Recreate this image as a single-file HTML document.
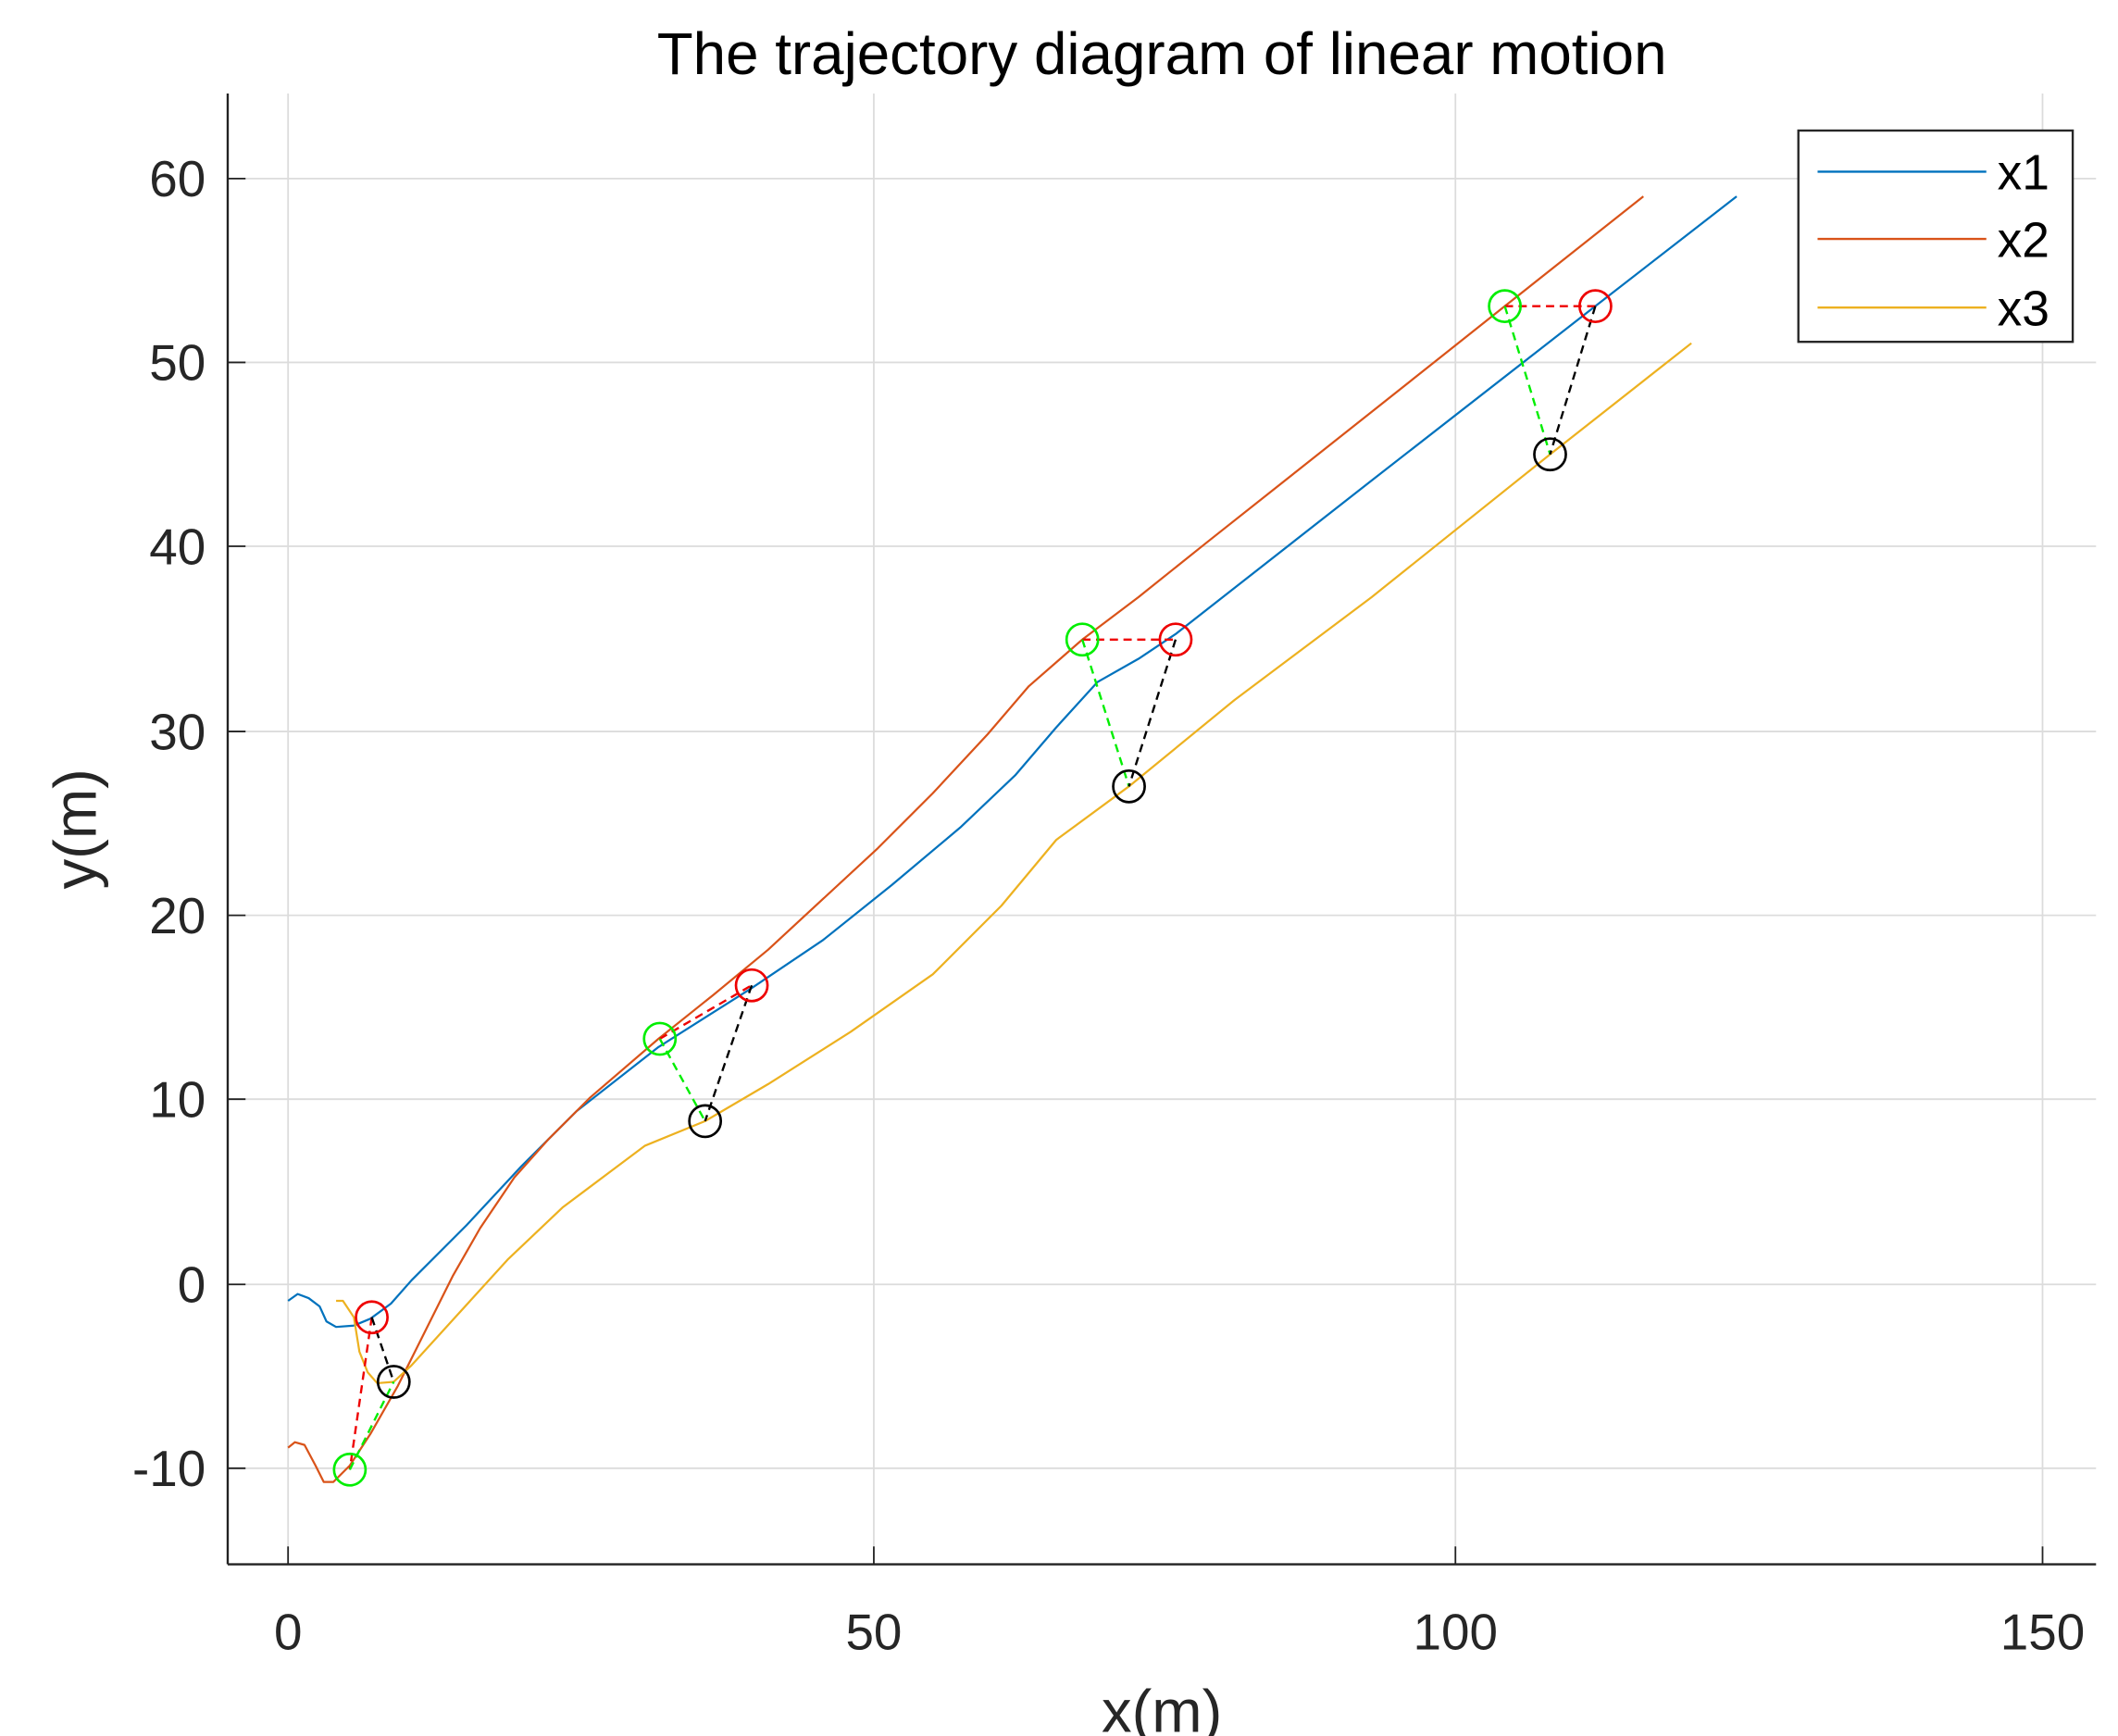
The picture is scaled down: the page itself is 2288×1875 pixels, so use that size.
<!DOCTYPE html>
<html><head><style>html,body{margin:0;padding:0;background:#fff}svg{display:block}</style></head>
<body>
<svg width="2288" height="1875" viewBox="0 0 1544 1265" xmlns="http://www.w3.org/2000/svg" font-family="Liberation Sans, sans-serif">
<rect width="1544" height="1265" fill="#fff"/>
<g stroke="#dcdcdc" stroke-width="1.2">
<line x1="210" y1="68" x2="210" y2="1140"/><line x1="637" y1="68" x2="637" y2="1140"/><line x1="1061" y1="68" x2="1061" y2="1140"/><line x1="1489" y1="68" x2="1489" y2="1140"/>
<line x1="166" y1="130" x2="1528" y2="130"/><line x1="166" y1="264" x2="1528" y2="264"/><line x1="166" y1="398" x2="1528" y2="398"/><line x1="166" y1="533" x2="1528" y2="533"/><line x1="166" y1="667" x2="1528" y2="667"/><line x1="166" y1="801" x2="1528" y2="801"/><line x1="166" y1="936" x2="1528" y2="936"/><line x1="166" y1="1070" x2="1528" y2="1070"/>
</g>
<g stroke="#222" stroke-width="1.6" fill="none">
<line x1="166" y1="68" x2="166" y2="1140"/><line x1="166" y1="1140" x2="1528" y2="1140"/>
<g stroke-width="1.2">
<line x1="210" y1="1140" x2="210" y2="1127"/><line x1="637" y1="1140" x2="637" y2="1127"/><line x1="1061" y1="1140" x2="1061" y2="1127"/><line x1="1489" y1="1140" x2="1489" y2="1127"/>
<line x1="166" y1="130" x2="179" y2="130"/><line x1="166" y1="264" x2="179" y2="264"/><line x1="166" y1="398" x2="179" y2="398"/><line x1="166" y1="533" x2="179" y2="533"/><line x1="166" y1="667" x2="179" y2="667"/><line x1="166" y1="801" x2="179" y2="801"/><line x1="166" y1="936" x2="179" y2="936"/><line x1="166" y1="1070" x2="179" y2="1070"/>
</g></g>
<g font-size="37" fill="#262626" text-anchor="end">
<text x="150" y="143">60</text><text x="150" y="277">50</text><text x="150" y="411">40</text><text x="150" y="546">30</text><text x="150" y="680">20</text><text x="150" y="814">10</text><text x="150" y="949">0</text><text x="150" y="1083">-10</text>
</g>
<g font-size="37" fill="#262626" text-anchor="middle">
<text x="210" y="1202">0</text><text x="637" y="1202">50</text><text x="1061" y="1202">100</text><text x="1489" y="1202">150</text>
<text x="847" y="1262" font-size="44">x(m)</text>
<text x="847" y="54" font-size="43" fill="#000">The trajectory diagram of linear motion</text>
<text transform="translate(70,604) rotate(-90)" font-size="44">y(m)</text>
</g>
<g fill="none" stroke-width="1.5" stroke-linejoin="round">
<polyline stroke="#0072BD" points="210,948 217,943 225,946 233,952 238,963 245,967 258,966 270,961 285,950 300,933 340,893 380,850 420,810 480,763 548,720 600,685 650,645 700,603 740,565 770,530 800,497 830,480 857,462 1000,350 1163,223 1266,143"/>
<polyline stroke="#D95319" points="210,1055 215,1051 222,1053 230,1068 236,1080 243,1080 255,1068 270,1045 290,1010 310,970 330,930 350,895 375,858 400,830 430,800 480,757 520,725 560,692 600,655 640,618 680,578 720,535 750,500 789,466 830,435 880,395 1000,300 1097,223 1198,143"/>
<polyline stroke="#EDB120" points="245,948 250,948 258,960 262,985 268,1000 275,1008 287,1007 300,995 330,962 370,918 410,880 470,835 514,817 560,790 620,752 680,710 730,660 770,612 823,573 900,510 1000,435 1130,331 1233,250"/>
</g>
<g fill="none" stroke-width="1.6" stroke-dasharray="6,4">
<g stroke="#e00"><line x1="271" y1="960" x2="255" y2="1071"/><line x1="481" y1="757" x2="548" y2="718"/><line x1="789" y1="466" x2="857" y2="466"/><line x1="1097" y1="223" x2="1163" y2="223"/></g>
<g stroke="#0e0"><line x1="255" y1="1071" x2="287" y2="1007"/><line x1="481" y1="757" x2="514" y2="817"/><line x1="789" y1="466" x2="823" y2="573"/><line x1="1097" y1="223" x2="1130" y2="331"/></g>
<g stroke="#000"><line x1="271" y1="960" x2="287" y2="1007"/><line x1="548" y1="718" x2="514" y2="817"/><line x1="857" y1="466" x2="823" y2="573"/><line x1="1163" y1="223" x2="1130" y2="331"/></g>
</g>
<g fill="none" stroke-width="1.8">
<g stroke="#e00"><circle cx="271" cy="960" r="11.5"/><circle cx="548" cy="718" r="11.5"/><circle cx="857" cy="466" r="11.5"/><circle cx="1163" cy="223" r="11.5"/></g>
<g stroke="#0e0"><circle cx="255" cy="1071" r="11.5"/><circle cx="481" cy="757" r="11.5"/><circle cx="789" cy="466" r="11.5"/><circle cx="1097" cy="223" r="11.5"/></g>
<g stroke="#000"><circle cx="287" cy="1007" r="11.5"/><circle cx="514" cy="817" r="11.5"/><circle cx="823" cy="573" r="11.5"/><circle cx="1130" cy="331" r="11.5"/></g>
</g>
<rect x="1311" y="95" width="200" height="154" fill="#fff" stroke="#262626" stroke-width="1.6"/>
<g stroke-width="1.6"><line x1="1325" y1="125" x2="1448" y2="125" stroke="#0072BD"/><line x1="1325" y1="174" x2="1448" y2="174" stroke="#D95319"/><line x1="1325" y1="224" x2="1448" y2="224" stroke="#EDB120"/></g>
<g font-size="36" fill="#000"><text x="1456" y="138">x1</text><text x="1456" y="187">x2</text><text x="1456" y="237">x3</text></g>
</svg>
</body></html>
